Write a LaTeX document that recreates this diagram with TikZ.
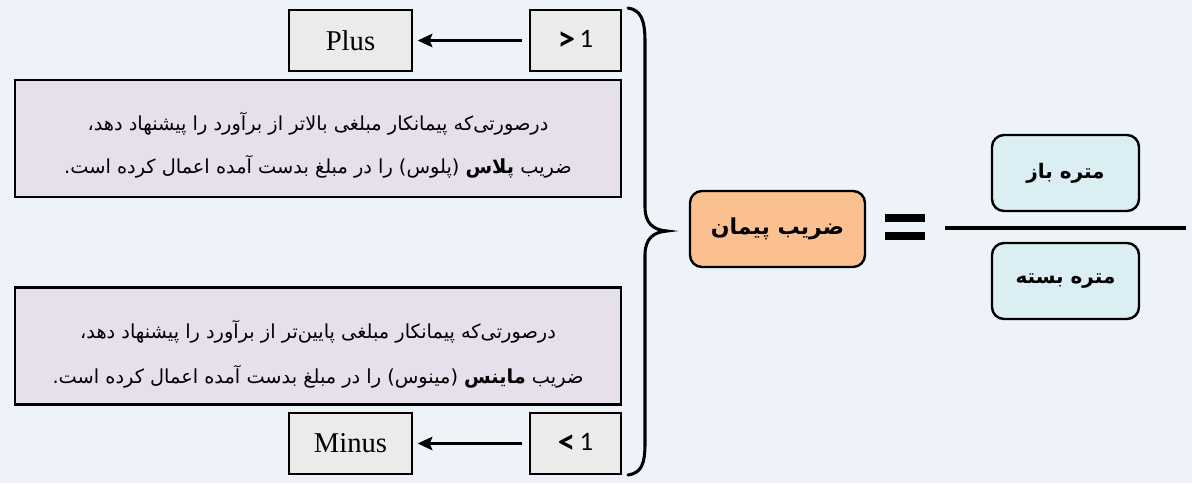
\documentclass[tikz,border=0pt]{standalone}
\usepackage{graphicx}
\usepackage{fontspec}
\setmainfont{Liberation Serif}
\newfontfamily\fa[Script=Arabic]{DejaVu Sans}
\newfontfamily\calfont{Carlito}
\TeXXeTstate=1
\usetikzlibrary{arrows.meta}
\definecolor{bgc}{HTML}{EEF3FA}
\definecolor{grayc}{HTML}{EBEBEB}
\definecolor{lavc}{HTML}{E5E0EC}
\definecolor{orc}{HTML}{FAC090}
\definecolor{bluec}{HTML}{DAEEF3}
\newcommand\PersLine[1]{\beginR #1\endR}
\newcommand\bigsym[1]{\raisebox{-1.8pt}{\scalebox{1.3}{\bfseries #1}}}
\begin{document}
\begin{tikzpicture}[x=0.75pt,y=-0.75pt,
  graybox/.style={draw=black,line width=1.5pt,fill=grayc,inner sep=0pt,
    minimum width=#1,minimum height=45.75pt},
  txtbox/.style={draw=black,line width=1.8pt,fill=lavc,inner sep=0pt,
    minimum width=454.5pt,minimum height=87.5pt},
  txt/.style={inner sep=0pt,align=center,font=\fa\fontsize{14.5}{#1}\selectfont},
  roundbox/.style={draw=black,line width=1.8pt,rounded corners=9pt,inner sep=0pt,
    minimum width=#1,minimum height=57pt,font=\fa\bfseries\fontsize{15}{17}\selectfont},
  conn/.style={line width=2.2pt,-{Stealth[length=11pt,width=10pt,inset=2pt]}},
]
\fill[bgc] (0,0) rectangle (1192,483);
\useasboundingbox (0,0) rectangle (1192,483);

% Plus / Minus branches
\node[graybox=92.25pt,font=\fontsize{21.5}{26}\selectfont] (plus) at (350.5,40.5) {Plus};
\node[graybox=68.25pt,font=\calfont\fontsize{20}{24}\selectfont] (gt) at (575.5,40.5) {\bigsym{>}\,1};
\node[graybox=92.25pt,font=\fontsize{21.5}{26}\selectfont] (minus) at (350.5,443.5) {Minus};
\node[graybox=68.25pt,font=\calfont\fontsize{20}{24}\selectfont] (lt) at (575.5,443.5) {\bigsym{<}\,1};
\draw[conn,shorten <=5pt,shorten >=3.5pt] (gt.west) -- (plus.east);
\draw[conn,shorten <=5pt,shorten >=3.5pt] (lt.west) -- (minus.east);

% explanation boxes
\node[txtbox] (topbox) at (318,138.5) {};
\node[txt=32] (toptext) at (318,145) {\PersLine{درصورتی^^^^200cکه پیمانکار مبلغی بالاتر از برآورد را پیشنهاد دهد،}\\
  \PersLine{ضریب {\bfseries پلاس} (پلوس) را در مبلغ بدست آمده اعمال کرده است.}};
\node[txtbox] (botbox) at (318,346) {};
\node[txt=33.5] (bottext) at (318,354) {\PersLine{درصورتی^^^^200cکه پیمانکار مبلغی پایین^^^^200cتر از برآورد را پیشنهاد دهد،}\\
  \PersLine{ضریب {\bfseries ماینس} (مینوس) را در مبلغ بدست آمده اعمال کرده است.}};

% brace
\draw[line width=2.3pt,line cap=round] (628,8) .. controls (641,10) and (645,20) .. (645,42)
  -- (645,207) .. controls (645,223) and (653,230) .. (667,231)
  .. controls (653,232) and (645,239) .. (645,255)
  -- (645,443) .. controls (645,465) and (641,473) .. (628,475);

% formula
\node[roundbox=131.25pt,fill=orc,font=\fa\bfseries\fontsize{16.5}{18}\selectfont] (zarib) at (777.5,229) {\PersLine{ضریب پیمان}};
\fill (885,214) rectangle (925,222);
\fill (885,232) rectangle (925,240);
\draw[line width=3pt] (945,228) -- (1186,228);
\node[roundbox=110.25pt,fill=bluec] (baz) at (1065.5,173) {\PersLine{متره باز}};
\node[roundbox=110.25pt,fill=bluec] (basteh) at (1065.5,281) {\PersLine{متره بسته}};
\end{tikzpicture}
\end{document}
